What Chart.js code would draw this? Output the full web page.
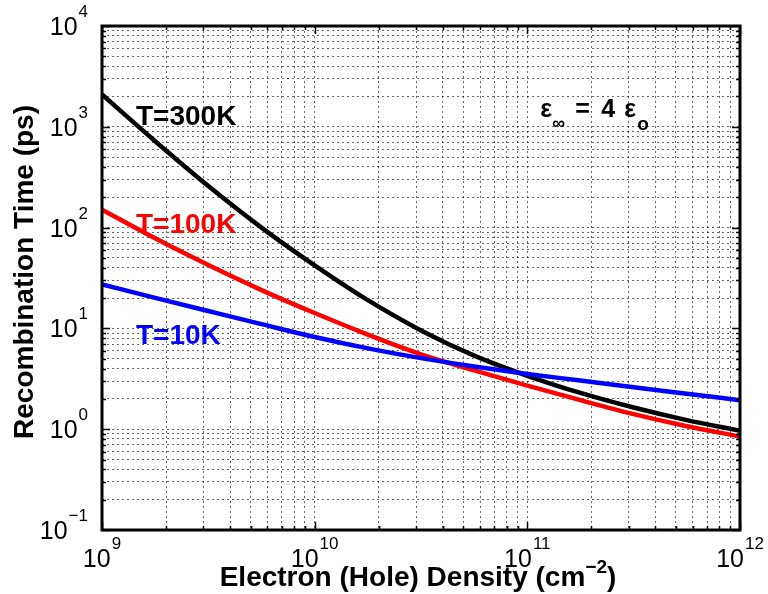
<!DOCTYPE html>
<html>
<head>
<meta charset="utf-8">
<style>
  body { margin: 0; background: #fff; }
  #wrap { width: 768px; height: 594px; }
</style>
</head>
<body>
<div id="wrap"><canvas id="recomb-chart" width="768" height="594"></canvas></div>
<script src="https://cdn.jsdelivr.net/npm/chart.js@4.4.1/dist/chart.umd.min.js"></script>
<script>
// densities (cm^-2), quarter-decade steps, and recombination times (ps)
var density = [1e9, 1.778e9, 3.162e9, 5.623e9, 1e10, 1.778e10, 3.162e10, 5.623e10, 1e11, 1.778e11, 3.162e11, 5.623e11, 1e12];
var tau300 = [2089, 720, 258.5, 100, 42.2, 19.05, 9.55, 5.37, 3.39, 2.29, 1.64, 1.23, 0.966];
var tau100 = [150.7, 78.2, 42.5, 24.0, 14.2, 8.67, 5.53, 3.83, 2.71, 1.94, 1.41, 1.07, 0.847];
var tau10 = [27.3, 20.1, 14.87, 11.02, 8.22, 6.34, 5.07, 4.19, 3.53, 3.04, 2.61, 2.25, 1.94];

var xDecades = [1e9, 1e10, 1e11, 1e12];
var xTickExp = ['9', '10', '11', '12'];
var yDecades = [1e-1, 1e0, 1e1, 1e2, 1e3, 1e4];
var yTickExp = ['\u22121', '0', '1', '2', '3', '4'];

var seriesLabels = ['T=10K', 'T=100K', 'T=300K'];
var seriesColors = ['#0000ff', '#ff0000', '#000000'];
// label anchors (data coords)
var labelX = [1.445e9, 1.445e9, 1.445e9];
var labelY = [8.73, 112, 1315];
var epsX = 1.15e11, epsY = 1470;

function minorTicks(decades) {
  var out = [];
  for (var i = 0; i < decades.length; i++) {
    out.push(decades[i]);
    if (i < decades.length - 1) {
      for (var k = 2; k <= 9; k++) out.push(decades[i] * k);
    }
  }
  return out;
}
var xGrid = minorTicks(xDecades);
var yGrid = minorTicks(yDecades);

function pts(ys) {
  return density.map(function (d, i) { return {x: d, y: ys[i]}; });
}

var FONT = '"Liberation Sans", Arial, Helvetica, sans-serif';

var decor = {
  id: 'decor',
  afterDraw: function (chart) {
    var ctx = chart.ctx, a = chart.chartArea;
    var xs = chart.scales.x, ys = chart.scales.y;
    ctx.save();
    ctx.fillStyle = '#000';
    ctx.strokeStyle = '#000';

    // tick marks, inward on all four sides
    ctx.lineWidth = 1.5;
    xGrid.forEach(function (v) {
      var px = Math.round(xs.getPixelForValue(v)) + 0.5;
      var len = xDecades.indexOf(v) >= 0 ? 8 : 4;
      ctx.beginPath();
      ctx.moveTo(px, a.bottom); ctx.lineTo(px, a.bottom - len);
      ctx.moveTo(px, a.top); ctx.lineTo(px, a.top + len);
      ctx.stroke();
    });
    yGrid.forEach(function (v) {
      var py = Math.round(ys.getPixelForValue(v)) + 0.5;
      var len = yDecades.indexOf(v) >= 0 ? 8 : 4;
      ctx.beginPath();
      ctx.moveTo(a.left, py); ctx.lineTo(a.left + len, py);
      ctx.moveTo(a.right, py); ctx.lineTo(a.right - len, py);
      ctx.stroke();
    });

    // box
    ctx.lineWidth = 3;
    ctx.strokeRect(a.left, a.top, a.right - a.left, a.bottom - a.top);

    // y tick labels 10^n
    ctx.textBaseline = 'alphabetic';
    yDecades.forEach(function (v, i) {
      var py = ys.getPixelForValue(v);
      ctx.font = '17px ' + FONT;
      var ew = ctx.measureText(yTickExp[i]).width;
      var expLeft = a.left - 14 - ew;
      ctx.textAlign = 'left';
      ctx.fillText(yTickExp[i], expLeft, py - 9);
      ctx.font = '25px ' + FONT;
      ctx.textAlign = 'right';
      ctx.fillText('10', expLeft - 1, py + 9);
    });

    // x tick labels 10^n
    xDecades.forEach(function (v, i) {
      var px = xs.getPixelForValue(v);
      ctx.font = '25px ' + FONT;
      var bw = ctx.measureText('10').width;
      ctx.font = '17px ' + FONT;
      var ew = ctx.measureText(xTickExp[i]).width;
      var left = px - (bw + 1 + ew) / 2;
      ctx.textAlign = 'left';
      ctx.font = '25px ' + FONT;
      ctx.fillText('10', left, a.bottom + 37);
      ctx.font = '17px ' + FONT;
      ctx.fillText(xTickExp[i], left + bw + 1, a.bottom + 19);
    });

    // x axis title with superscript
    var t1 = 'Electron (Hole) Density (cm', t2 = '\u22122', t3 = ')';
    ctx.font = 'bold 28px ' + FONT;
    var w1 = ctx.measureText(t1).width, w3 = ctx.measureText(t3).width;
    ctx.font = 'bold 19px ' + FONT;
    var w2 = ctx.measureText(t2).width;
    var cx = (a.left + a.right) / 2 - 3;
    var x0 = cx - (w1 + w2 + w3) / 2;
    var by = a.bottom + 56;
    ctx.textAlign = 'left';
    ctx.font = 'bold 28px ' + FONT;
    ctx.fillText(t1, x0, by);
    ctx.fillText(t3, x0 + w1 + w2, by);
    ctx.font = 'bold 19px ' + FONT;
    ctx.fillText(t2, x0 + w1, by - 13);

    // y axis title
    ctx.save();
    ctx.translate(33, (a.top + a.bottom) / 2 - 6);
    ctx.rotate(-Math.PI / 2);
    ctx.font = 'bold 28px ' + FONT;
    ctx.textAlign = 'center';
    ctx.fillText('Recombination Time (ps)', 0, 0);
    ctx.restore();

    // curve labels
    ctx.font = 'bold 28px ' + FONT;
    ctx.textAlign = 'left';
    seriesLabels.forEach(function (s, i) {
      ctx.fillStyle = seriesColors[i];
      ctx.fillText(s, xs.getPixelForValue(labelX[i]), ys.getPixelForValue(labelY[i]) + 10);
    });

    // epsilon annotation
    ctx.fillStyle = '#000';
    var ex = xs.getPixelForValue(epsX), ey = ys.getPixelForValue(epsY) + 7;
    ctx.font = 'bold 25px ' + FONT;
    ctx.fillText('\u03b5', ex, ey);
    ctx.font = 'bold 18px ' + FONT;
    ctx.fillText('\u221e', ex + 12, ey + 12);
    ctx.font = 'bold 25px ' + FONT;
    ctx.fillText('=', ex + 35, ey);
    ctx.fillText('4', ex + 61, ey);
    ctx.fillText('\u03b5', ex + 84, ey);
    ctx.font = 'bold 19px ' + FONT;
    ctx.fillText('o', ex + 97, ey + 13);

    ctx.restore();
  }
};

new Chart(document.getElementById('recomb-chart'), {
  type: 'line',
  data: {
    datasets: [0, 1, 2].map(function (i) {
      return {
        label: seriesLabels[i],
        data: pts([tau10, tau100, tau300][i]),
        borderColor: seriesColors[i],
        borderWidth: 4.5,
        pointRadius: 0,
        fill: false,
        cubicInterpolationMode: 'monotone'
      };
    })
  },
  options: {
    responsive: false,
    animation: false,
    layout: { padding: { left: 102, right: 28, top: 26, bottom: 64 } },
    plugins: { legend: { display: false }, tooltip: { enabled: false } },
    scales: {
      x: {
        type: 'logarithmic',
        min: 1e9, max: 1e12,
        afterBuildTicks: function (scale) { scale.ticks = xGrid.map(function (v) { return {value: v}; }); },
        ticks: { display: false },
        grid: { color: 'rgba(0,0,0,0.6)', lineWidth: 1, drawTicks: false },
        border: { display: false, dash: [2, 3] }
      },
      y: {
        type: 'logarithmic',
        min: 1e-1, max: 1e4,
        afterBuildTicks: function (scale) { scale.ticks = yGrid.map(function (v) { return {value: v}; }); },
        ticks: { display: false },
        grid: { color: 'rgba(0,0,0,0.6)', lineWidth: 1, drawTicks: false },
        border: { display: false, dash: [2, 3] }
      }
    }
  },
  plugins: [decor]
});
</script>
</body>
</html>
